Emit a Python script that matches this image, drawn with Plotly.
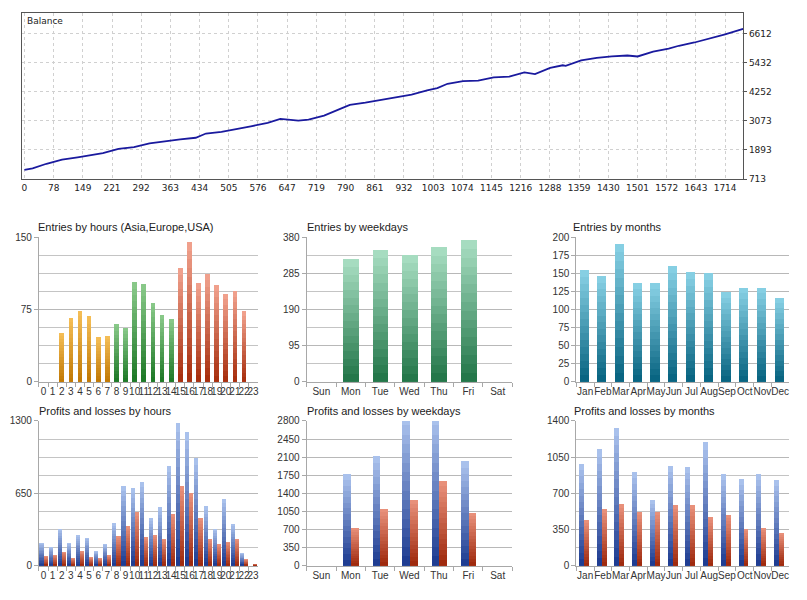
import plotly.graph_objects as go

# ---------------- data ----------------
balance_trade = [0, 20, 54, 92, 130, 155, 192, 230, 268, 306, 343, 381, 419, 444, 482, 519, 557,
                 595, 626, 645, 670, 695, 733, 771, 796, 834, 871, 909, 947, 985, 1010, 1035,
                 1073, 1110, 1148, 1186, 1223, 1249, 1286, 1317, 1324, 1362, 1400, 1437, 1475,
                 1500, 1538, 1576, 1601, 1639, 1677, 1714, 1758]
balance_value = [1082, 1150, 1332, 1503, 1595, 1674, 1767, 1938, 2004, 2162, 2254, 2320, 2386,
                 2557, 2623, 2728, 2860, 2991, 3149, 3123, 3083, 3123, 3281, 3544, 3715, 3808,
                 3913, 4019, 4137, 4308, 4400, 4572, 4677, 4703, 4835, 4861, 5033, 4967, 5217,
                 5322, 5300, 5520, 5625, 5678, 5717, 5678, 5875, 5994, 6112, 6244, 6402, 6573, 6797]
balance_ticktext = ["0", "78", "149", "221", "292", "363", "434", "505", "576", "647", "719", "790",
                    "861", "932", "1003", "1074", "1145", "1216", "1288", "1359", "1430", "1501",
                    "1572", "1643", "1714"]
balance_yticks = [713, 1893, 3073, 4252, 5432, 6612]

hours = ["0", "1", "2", "3", "4", "5", "6", "7", "8", "9", "10", "11", "12", "13", "14", "15",
         "16", "17", "18", "19", "20", "21", "22", "23"]
hour_session = ["Asia"] * 8 + ["Europe"] * 7 + ["USA"] * 9
entries_hours = [0, 0, 50, 66, 73, 68, 46, 47, 60, 56, 103, 101, 82, 69, 65, 118, 145, 102, 112,
                 100, 91, 94, 73, 0]

weekdays = ["Sun", "Mon", "Tue", "Wed", "Thu", "Fri", "Sat"]
entries_weekdays = [0, 321, 347, 333, 353, 372, 0]

months = ["Jan", "Feb", "Mar", "Apr", "May", "Jun", "Jul", "Aug", "Sep", "Oct", "Nov", "Dec"]
entries_months = [155, 146, 191, 136, 136, 160, 151, 150, 124, 130, 130, 116]

profit_hours = [207, 171, 331, 204, 275, 251, 133, 195, 381, 715, 694, 753, 431, 523, 895, 1285,
                1199, 963, 535, 331, 597, 375, 115, 0]
loss_hours = [83, 95, 124, 71, 133, 74, 65, 92, 263, 354, 479, 254, 275, 242, 464, 718, 653, 431,
              236, 192, 213, 236, 56, 9]

profit_weekdays = [0, 1769, 2119, 2900, 2900, 2018, 0]
loss_weekdays = [0, 732, 1101, 1273, 1636, 1025, 0]

profit_months = [986, 1126, 1336, 904, 636, 967, 955, 1196, 885, 837, 885, 827]
loss_months = [439, 547, 598, 519, 519, 589, 589, 471, 490, 356, 366, 315]

# ---------------- helpers ----------------
W, H = 807, 600
FONT = "Liberation Sans"


def px(x):
    return x / W


def py(y):
    return 1 - y / H


def hex2rgb(h):
    h = h.lstrip("#")
    return tuple(int(h[i:i + 2], 16) for i in (0, 2, 4))


def mix(c1, c2, t):
    a, b = hex2rgb(c1), hex2rgb(c2)
    return "rgb(%d,%d,%d)" % tuple(round(a[i] + (b[i] - a[i]) * t) for i in range(3))


SESSION_COLORS = {
    "Asia": ("#f4bd55", "#c27a05"),
    "Europe": ("#88c888", "#1f7a28"),
    "USA": ("#f0a08c", "#a8300f"),
}
GREEN = ("#a6dcc0", "#24774a")
TEAL = ("#86cfe3", "#096582")
BLUE = ("#a9c1ec", "#1f3d92")
RED = ("#e8907a", "#9f2a0e")

fig = go.Figure()


def gradient_bars(xa, ya, cats, vals, tops, bottoms, offset, width, n=16):
    # drawn as nested bars from lightest (full height) to darkest (short)
    for k in range(n):
        frac = (n - k) / n
        t = k / (n - 1)
        cols = [mix(tp, bt, t) for tp, bt in zip(tops, bottoms)]
        fig.add_trace(go.Bar(
            x=cats, y=[v * frac for v in vals], base=0,
            marker=dict(color=cols, line=dict(width=0)),
            offset=offset, width=width,
            xaxis=xa, yaxis=ya, showlegend=False, hoverinfo="skip"))


# balance line
fig.add_trace(go.Scatter(x=balance_trade, y=balance_value, mode="lines",
                         line=dict(color="#1a1a9e", width=1.8),
                         xaxis="x", yaxis="y", showlegend=False))

# entries by hours
tops = [SESSION_COLORS[s][0] for s in hour_session]
bots = [SESSION_COLORS[s][1] for s in hour_session]
gradient_bars("x2", "y2", hours, entries_hours, tops, bots, -0.26, 0.52)
# entries by weekdays
gradient_bars("x3", "y3", weekdays, entries_weekdays, [GREEN[0]] * 7, [GREEN[1]] * 7, -0.27, 0.54)
# entries by months
gradient_bars("x4", "y4", months, entries_months, [TEAL[0]] * 12, [TEAL[1]] * 12, -0.3, 0.52)
# profits and losses by hours
gradient_bars("x5", "y5", hours, profit_hours, [BLUE[0]] * 24, [BLUE[1]] * 24, -0.45, 0.45)
gradient_bars("x5", "y5", hours, loss_hours, [RED[0]] * 24, [RED[1]] * 24, 0.0, 0.45)
# weekdays
gradient_bars("x6", "y6", weekdays, profit_weekdays, [BLUE[0]] * 7, [BLUE[1]] * 7, -0.26, 0.26)
gradient_bars("x6", "y6", weekdays, loss_weekdays, [RED[0]] * 7, [RED[1]] * 7, 0.0, 0.26)
# months
gradient_bars("x7", "y7", months, profit_months, [BLUE[0]] * 12, [BLUE[1]] * 12, -0.33, 0.28)
gradient_bars("x7", "y7", months, loss_months, [RED[0]] * 12, [RED[1]] * 12, -0.05, 0.28)

layout = dict(
    width=W, height=H, margin=dict(l=0, r=0, t=0, b=0),
    paper_bgcolor="white", plot_bgcolor="white",
    barmode="overlay", bargap=0, showlegend=False,
    font=dict(family=FONT, size=10, color="#222"),
)

# balance axes
layout["xaxis"] = dict(
    domain=[px(22), px(744)], anchor="y", range=[-6, 1758],
    tickmode="array", tickvals=[i * 71.42 for i in range(len(balance_ticktext))],
    ticktext=balance_ticktext, showgrid=True, gridcolor="#d0d0d0", griddash="dot",
    showline=True, mirror=True, linecolor="#555", linewidth=1, zeroline=False,
    ticks="", tickfont=dict(family="DejaVu Sans", size=9, color="#222"))
layout["yaxis"] = dict(
    domain=[py(177), py(8)], anchor="x", side="right", range=[713, 7444],
    tickmode="array", tickvals=balance_yticks, showgrid=True, gridcolor="#d0d0d0",
    griddash="dot", showline=True, mirror=True, linecolor="#555", linewidth=1,
    zeroline=False, ticks="outside", ticklen=3, tickcolor="#555",
    tickfont=dict(family="DejaVu Sans", size=9, color="#222"))

cols = [(39, 258), (307, 513), (577, 790)]
rows = [(236, 383), (423, 570)]
cats_list = [hours, weekdays, months, hours, weekdays, months]
yspec = [  # (max, major dtick, minor dtick)
    (150, 75, 18.75), (380, 95, 47.5), (200, 25, None),
    (1300, 650, 162.5), (2800, 350, None), (1400, 350, 175),
]
titles = ["Entries by hours (Asia,Europe,USA)", "Entries by weekdays", "Entries by months",
          "Profits and losses by hours", "Profits and losses by weekdays",
          "Profits and losses by months"]
title_x = [36, 305, 572, 37, 305, 573]

annotations = [dict(text="Balance", x=px(25), y=py(16), xref="paper", yref="paper",
                    xanchor="left", yanchor="middle", showarrow=False,
                    font=dict(family="DejaVu Sans", size=9, color="#222"))]

for i in range(6):
    r, c = divmod(i, 3)
    n = i + 2
    cats = cats_list[i]
    ymax, dt, mdt = yspec[i]
    layout["xaxis%d" % n] = dict(
        domain=[px(cols[c][0]), px(cols[c][1])], anchor="y%d" % n,
        type="category", categoryorder="array", categoryarray=cats,
        range=[-0.5, len(cats) - 0.5], showgrid=False, zeroline=False,
        showline=True, linecolor="#a8a8a8", linewidth=1,
        ticks="outside", tickson="boundaries", ticklen=4, tickcolor="#a8a8a8",
        tickangle=0, tickmode="array", tickvals=cats, ticktext=cats,
        tickfont=dict(family=FONT, size=10, color="#333"))
    ydict = dict(
        domain=[py(rows[r][1]), py(rows[r][0])], anchor="x%d" % n,
        range=[0, ymax], tickmode="linear", tick0=0, dtick=dt,
        showgrid=True, gridcolor="#b8b8b8", gridwidth=1, zeroline=False,
        showline=True, linecolor="#a8a8a8", linewidth=1,
        ticks="outside", ticklen=4, tickcolor="#a8a8a8",
        tickfont=dict(family=FONT, size=10, color="#333"))
    if mdt:
        ydict["minor"] = dict(tickmode="linear", tick0=0, dtick=mdt, showgrid=True,
                              gridcolor="#c4c4c4", ticks="")
    layout["yaxis%d" % n] = ydict
    annotations.append(dict(
        text=titles[i], x=px(title_x[i]), y=py(rows[r][0] - 10), xref="paper", yref="paper",
        xanchor="left", yanchor="middle", showarrow=False,
        font=dict(family=FONT, size=11, color="#222")))

layout["annotations"] = annotations
fig.update_layout(**layout)
fig.write_html("out.html", config={"displayModeBar": False},
               post_script="document.body.style.margin='0';document.body.style.overflow='hidden';")
